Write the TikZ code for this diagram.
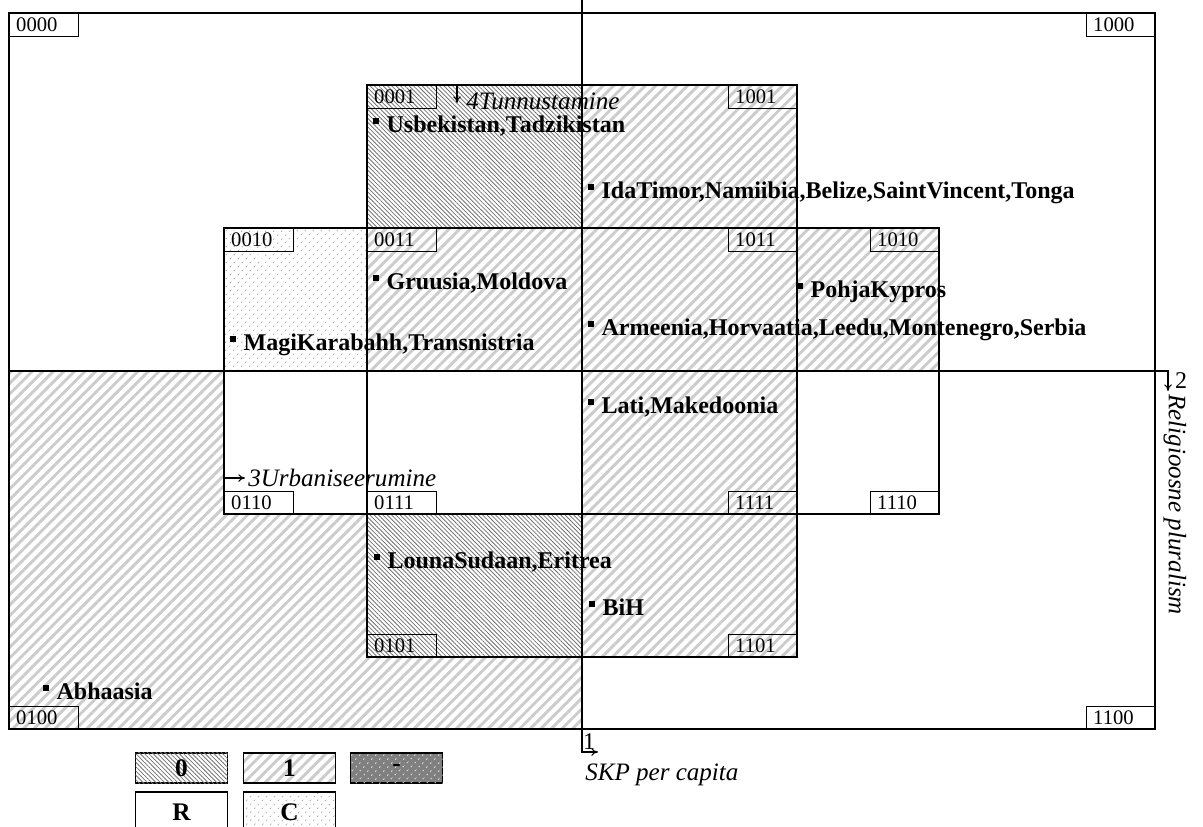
\documentclass[tikz,border=0pt]{standalone}
\usepackage{fontspec}
\setmainfont{Liberation Serif}
\usetikzlibrary{arrows.meta,patterns.meta}
\newcommand{\sqbul}{\raisebox{6.3pt}{\rule{4.2pt}{4.2pt}}\hspace{5.8pt}}

\begin{document}
\begin{tikzpicture}[x=0.75pt,y=-0.75pt,
  frame/.style={line width=0.9pt},
  one/.style={pattern={Lines[angle=45,distance=5.6pt,line width=2.2pt]},pattern color=black!20},
  zero/.style={fill=white,postaction={pattern={Lines[angle=-45,distance=2.3pt,line width=0.6pt]},pattern color=black!55}},
  dotty/.style={pattern={Dots[angle=45,distance=4pt,radius=0.55pt]},pattern color=black!45},
  code/.style={draw,line width=0.8pt,anchor=north west,inner xsep=5pt,inner ysep=0pt,text width=41.75pt,minimum height=17.25pt,align=left,font=\fontsize{15.5}{16}\selectfont},
  country/.style={anchor=base west,inner sep=0pt,font=\fontsize{18}{20}\selectfont\bfseries},
  axname/.style={inner sep=0pt,font=\fontsize{18.8}{20}\selectfont\itshape},
  axnum/.style={inner sep=0pt,font=\fontsize{18}{20}\selectfont},
  axis/.style={line width=0.8pt,-{To[length=5pt,width=5.5pt]}},
  legend/.style={draw,line width=1.3pt,minimum width=69pt,minimum height=23pt,inner sep=0pt,font=\fontsize{19}{20}\selectfont\bfseries}]
\useasboundingbox (0,0) rectangle (1203,826);
\clip (0,0) rectangle (1203,826);

% cell fills
\fill[one] (9,371) rectangle (582,729);
\fill[white] (224,371) rectangle (582,514);
\fill[zero] (367,85) rectangle (582,228);
\fill[one] (582,85) rectangle (797,228);
\fill[dotty] (224,228) rectangle (367,371);
\fill[one] (367,228) rectangle (939,371);
\fill[one] (582,371) rectangle (797,514);
\fill[zero] (367,514) rectangle (582,657);
\fill[one] (582,514) rectangle (797,657);

% cell borders
\draw[frame] (9,13) rectangle (1155,729);
\draw[frame] (367,85) rectangle (797,228);
\draw[frame] (224,228) rectangle (939,514);
\draw[frame] (367,514) rectangle (797,657);
\draw[frame] (367,228) -- (367,514);
\draw[frame] (797,228) -- (797,514);

% axes
\coordinate (xtop) at (582,0);
\coordinate (xcorner) at (582,752);
\coordinate (xend) at (598,752);
\coordinate (yleft) at (9,371);
\coordinate (ycorner) at (1168,371);
\coordinate (yend) at (1168,391);
\draw[axis] (xtop) -- (xcorner) -- (xend);
\draw[axis] (yleft) -- (ycorner) -- (yend);
\node[axnum,anchor=base] (xnum) at (589,749) {1};
\node[axname,anchor=base west] (xname) at (585,780) {SKP per capita};
\node[axnum] (ynum) at (1181,381) {2};
\node[axname,rotate=-90,anchor=west] (yname) at (1175,394) {Religioosne pluralism};

% inner axes
\coordinate (t4a) at (457,86);
\coordinate (t4b) at (457,103);
\draw[axis] (t4a) -- (t4b);
\node[axname,anchor=base west] (t4) at (466,109) {4Tunnustamine};
\coordinate (u3a) at (225,478);
\coordinate (u3b) at (245,478);
\draw[axis] (u3a) -- (u3b);
\node[axname,anchor=base west] (u3) at (248,486) {3Urbaniseerumine};

% codes
\node[code] (c0000) at (9,13) {0000};
\node[code] (c1000) at (1086,13) {1000};
\node[code] (c0100) at (9,706) {0100};
\node[code] (c1100) at (1086,706) {1100};
\node[code] (c0001) at (367,85) {0001};
\node[code] (c1001) at (728,85) {1001};
\node[code] (c0010) at (224,228) {0010};
\node[code] (c0011) at (367,228) {0011};
\node[code] (c1011) at (728,228) {1011};
\node[code] (c1010) at (870,228) {1010};
\node[code] (c0110) at (224,491) {0110};
\node[code] (c0111) at (367,491) {0111};
\node[code] (c1111) at (728,491) {1111};
\node[code] (c1110) at (870,491) {1110};
\node[code] (c0101) at (367,634) {0101};
\node[code] (c1101) at (728,634) {1101};

% countries
\node[country] (usb) at (373,132) {\sqbul Usbekistan,Tadzikistan};
\node[country] (ida) at (588,198) {\sqbul IdaTimor,Namiibia,Belize,SaintVincent,Tonga};
\node[country] (gru) at (373,289) {\sqbul Gruusia,Moldova};
\node[country] (mag) at (230,350) {\sqbul MagiKarabahh,Transnistria};
\node[country] (poh) at (797,297) {\sqbul PohjaKypros};
\node[country] (arm) at (588,335) {\sqbul Armeenia,Horvaatia,Leedu,Montenegro,Serbia};
\node[country] (lat) at (588,413) {\sqbul Lati,Makedoonia};
\node[country] (lou) at (374,568) {\sqbul LounaSudaan,Eritrea};
\node[country] (bih) at (589,615) {\sqbul BiH};
\node[country] (abh) at (43,699) {\sqbul Abhaasia};

% legend
\node[legend,zero] (leg0) at (181.5,768) {0};
\node[legend,one] (leg1) at (289.5,768) {1};
\node[legend,fill=black!50,postaction={pattern={Dots[angle=45,distance=4pt,radius=0.6pt]},pattern color=white}] (legdash) at (396.5,768) {-};
\node[legend,minimum height=30pt] (legR) at (181.5,812) {R};
\node[legend,dotty,minimum height=30pt] (legC) at (289.5,812) {C};
\end{tikzpicture}
\end{document}
